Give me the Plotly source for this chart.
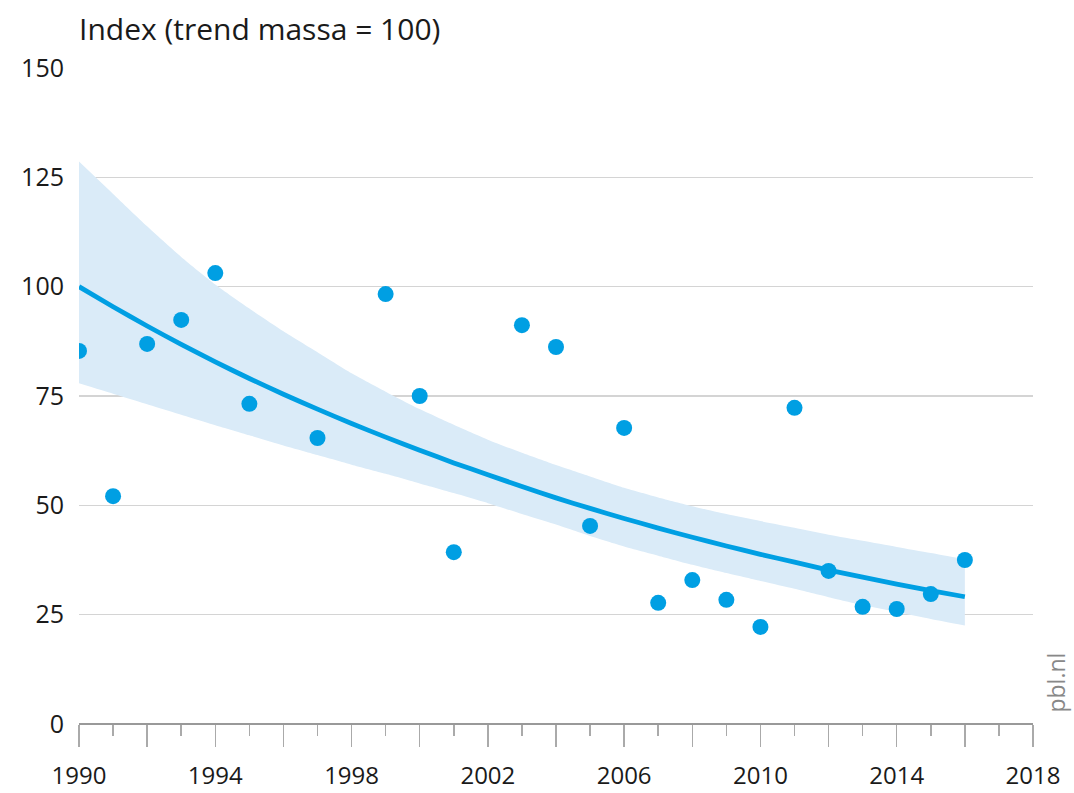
import plotly.graph_objects as go

# Observed index values (points)
obs_years = [1990, 1991, 1992, 1993, 1994, 1995, 1997, 1999, 2000, 2001, 2003, 2004,
             2005, 2006, 2007, 2008, 2009, 2010, 2011, 2012, 2013, 2014, 2015, 2016]
obs_values = [85.3, 52.1, 86.9, 92.4, 103.1, 73.2, 65.4, 98.3, 75.0, 39.3, 91.2, 86.2,
              45.3, 67.7, 27.7, 32.9, 28.4, 22.2, 72.3, 35.0, 26.8, 26.3, 29.7, 37.5]

# Trend and confidence band, read per year
trend_years = list(range(1990, 2017))
trend_values = [100, 95.4, 91.0, 86.8, 82.8, 79.0, 75.4, 72.0, 68.7, 65.6, 62.6, 59.7, 57.0,
                54.3, 51.7, 49.3, 47.0, 44.8, 42.7, 40.7, 38.8, 37.0, 35.2, 33.6, 32.0, 30.5, 29.1]
upper_values = [128.6, 121.2, 113.8, 106.8, 100.5, 95.0, 89.8, 85.0, 80.2, 76.0, 72.0, 68.4, 65.0,
                62.0, 59.2, 56.6, 54.0, 51.8, 49.8, 48.0, 46.4, 44.9, 43.3, 41.9, 40.5, 39.1, 37.7]
lower_values = [77.9, 75.5, 73.1, 70.7, 68.3, 66.0, 63.7, 61.5, 59.3, 57.2, 55.0, 52.8, 50.5,
                48.0, 45.6, 43.0, 40.6, 38.5, 36.4, 34.5, 32.7, 30.9, 29.0, 27.2, 25.6, 24.0, 22.5]

x_tick_vals = list(range(1990, 2019, 2))
x_tick_text = [str(y) if (y - 1990) % 4 == 0 else "" for y in x_tick_vals]
y_tick_vals = [0, 25, 50, 75, 100, 125, 150]

BLUE = "#009fe3"
BAND = "#daebf8"
FONT = "Open Sans"

fig = go.Figure()
fig.add_trace(go.Scatter(x=trend_years, y=upper_values, mode="lines",
                         line=dict(width=0, color=BAND, shape="spline", smoothing=0.6),
                         showlegend=False, hoverinfo="skip"))
fig.add_trace(go.Scatter(x=trend_years, y=lower_values, mode="lines", fill="tonexty",
                         fillcolor=BAND, line=dict(width=0, color=BAND, shape="spline", smoothing=0.6),
                         showlegend=False, hoverinfo="skip"))
fig.add_trace(go.Scatter(x=trend_years, y=trend_values, mode="lines",
                         line=dict(width=4.8, color=BLUE, shape="spline", smoothing=0.6),
                         showlegend=False))
fig.add_trace(go.Scatter(x=obs_years, y=obs_values, mode="markers",
                         marker=dict(size=16, color=BLUE), showlegend=False))

fig.update_layout(
    width=1074, height=793,
    margin=dict(l=79, r=41, t=68, b=69),
    paper_bgcolor="white", plot_bgcolor="white",
    font=dict(family=FONT, size=24, color="#1a1a1a"),
    xaxis=dict(range=[1990, 2018], tickmode="array", tickvals=x_tick_vals, ticktext=x_tick_text,
               showgrid=False, zeroline=False, showline=False, automargin=False,
               ticks="outside", ticklen=22, tickwidth=1.5, tickcolor="#aaaaaa",
               minor=dict(dtick=1, tick0=1990, ticks="outside", ticklen=11,
                          tickwidth=1.5, tickcolor="#aaaaaa"),
               ticklabelstandoff=8,
               tickfont=dict(size=24), fixedrange=True),
    yaxis=dict(range=[0, 150], tickmode="array", tickvals=y_tick_vals, automargin=False,
               showgrid=True, gridcolor="#d4d4d4", gridwidth=1.5,
               zeroline=True, zerolinecolor="#999999", zerolinewidth=2,
               showline=False, ticks="", ticklabelstandoff=14,
               tickfont=dict(size=25), fixedrange=True),
    annotations=[
        dict(text="Index (trend massa = 100)", xref="paper", yref="paper",
             x=0, y=1, xshift=-2, yshift=40, xanchor="left", yanchor="middle",
             showarrow=False, font=dict(size=30, color="#1a1a1a", family=FONT)),
        dict(text="pbl.nl", xref="paper", yref="paper", x=1.024, y=0.063,
             xanchor="center", yanchor="middle", textangle=-90, showarrow=False,
             font=dict(size=23, color="#888888", family=FONT)),
    ],
)

fig.write_html(
    "out.html",
    config={"displayModeBar": False, "staticPlot": True},
    post_script="document.body.style.margin='0';document.body.style.overflow='hidden';",
)
